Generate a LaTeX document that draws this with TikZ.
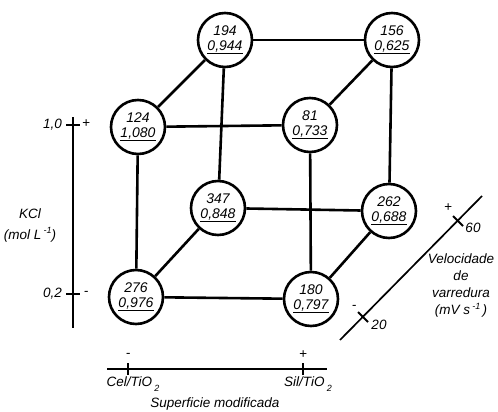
\documentclass[tikz,border=0pt]{standalone}
\usepackage{fontspec}
\setmainfont{Liberation Sans}
\newcommand{\lowtwo}{\,\raisebox{-0.7ex}{\fontsize{9}{9}\selectfont 2}}
\newcommand{\supneg}{\,\raisebox{0.8ex}{\fontsize{9}{9}\selectfont -1}}
\begin{document}
\begin{tikzpicture}[
  x=1pt, y=-1pt,
  vertex/.style={circle, draw, line width=2.6pt, minimum size=54pt, inner sep=0pt,
    align=center, font=\itshape\fontsize{14}{14.5}\selectfont},
  lab/.style={font=\itshape\fontsize{13.5}{15}\selectfont, inner sep=1pt},
  edge/.style={line width=2.6pt},
  axis/.style={line width=2pt},
]
  \useasboundingbox (0,0) rectangle (498,412);

  \node[vertex] (f124) at (138,127) {124\\\underline{1,080}};
  \node[vertex] (f81) at (310,125) {81\\\underline{0,733}};
  \node[vertex] (f276) at (136,297) {276\\\underline{0,976}};
  \node[vertex] (f180) at (311,299) {180\\\underline{0,797}};
  \node[vertex] (b194) at (225,40) {194\\\underline{0,944}};
  \node[vertex] (b156) at (392,40) {156\\\underline{0,625}};
  \node[vertex] (b347) at (218,208) {347\\\underline{0,848}};
  \node[vertex] (b262) at (389,211) {262\\\underline{0,688}};

  \draw[edge] (f124) -- (f81);
  \draw[edge] (f124) -- (f276);
  \draw[edge] (f81) -- (f180);
  \draw[edge] (f276) -- (f180);
  \draw[edge] (b194) -- (b156);
  \draw[edge] (b194) -- (b347);
  \draw[edge] (b156) -- (b262);
  \draw[edge] (b347) -- (b262);
  \draw[edge] (f124) -- (b194);
  \draw[edge] (f81) -- (b156);
  \draw[edge] (f276) -- (b347);
  \draw[edge] (f180) -- (b262);

  \coordinate (ktop) at (73,117);
  \coordinate (kbot) at (73,328);
  \coordinate (khi) at (73,125);
  \coordinate (klo) at (73,294);
  \draw[axis] (ktop) -- (kbot);
  \draw[axis] ([xshift=-7pt]khi) -- ([xshift=7pt]khi);
  \draw[axis] ([xshift=-7pt]klo) -- ([xshift=7pt]klo);
  \node[lab, anchor=east] (khilab) at (63,125) {1,0};
  \node[lab, anchor=east] (klolab) at (63,294) {0,2};
  \node[lab] (khisign) at (86,124) {+};
  \node[lab] (klosign) at (86,293) {-};
  \node[lab] (kname) at (30,214) {KCl};
  \node[lab] (kunit) at (30,235) {(mol L\supneg)};

  \coordinate (sleft) at (107,369);
  \coordinate (sright) at (327,369);
  \coordinate (scel) at (128,369);
  \coordinate (ssil) at (303,369);
  \draw[axis] (sleft) -- (sright);
  \draw[axis] ([yshift=-6pt]scel) -- ([yshift=6pt]scel);
  \draw[axis] ([yshift=-6pt]ssil) -- ([yshift=6pt]ssil);
  \node[lab] (scelsign) at (128,355) {-};
  \node[lab] (ssilsign) at (303,355) {+};
  \node[lab] (scellab) at (133,384) {Cel/TiO\lowtwo};
  \node[lab] (ssillab) at (308,384) {Sil/TiO\lowtwo};
  \node[lab] (sname) at (215,404) {Superficie modificada};

  \coordinate (vlow) at (340,340);
  \coordinate (vhigh) at (482,196);
  \coordinate (v20) at (363,317);
  \coordinate (v60) at (458,221);
  \draw[axis, line width=1.7pt] (vlow) -- (vhigh);
  \draw[axis] ([shift={(-5,-5)}]v20) -- ([shift={(5,5)}]v20);
  \draw[axis] ([shift={(-5,-5)}]v60) -- ([shift={(5,5)}]v60);
  \node[lab] (v20sign) at (354,307) {-};
  \node[lab] (v60sign) at (448,208) {+};
  \node[lab] (v20lab) at (379,325) {20};
  \node[lab] (v60lab) at (473,228) {60};
  \node[lab, align=center, font=\itshape\fontsize{13.5}{17}\selectfont] (vname) at (461,286)
    {Velocidade\\de\\varredura\\(mV s\supneg\,)};
\end{tikzpicture}
\end{document}
